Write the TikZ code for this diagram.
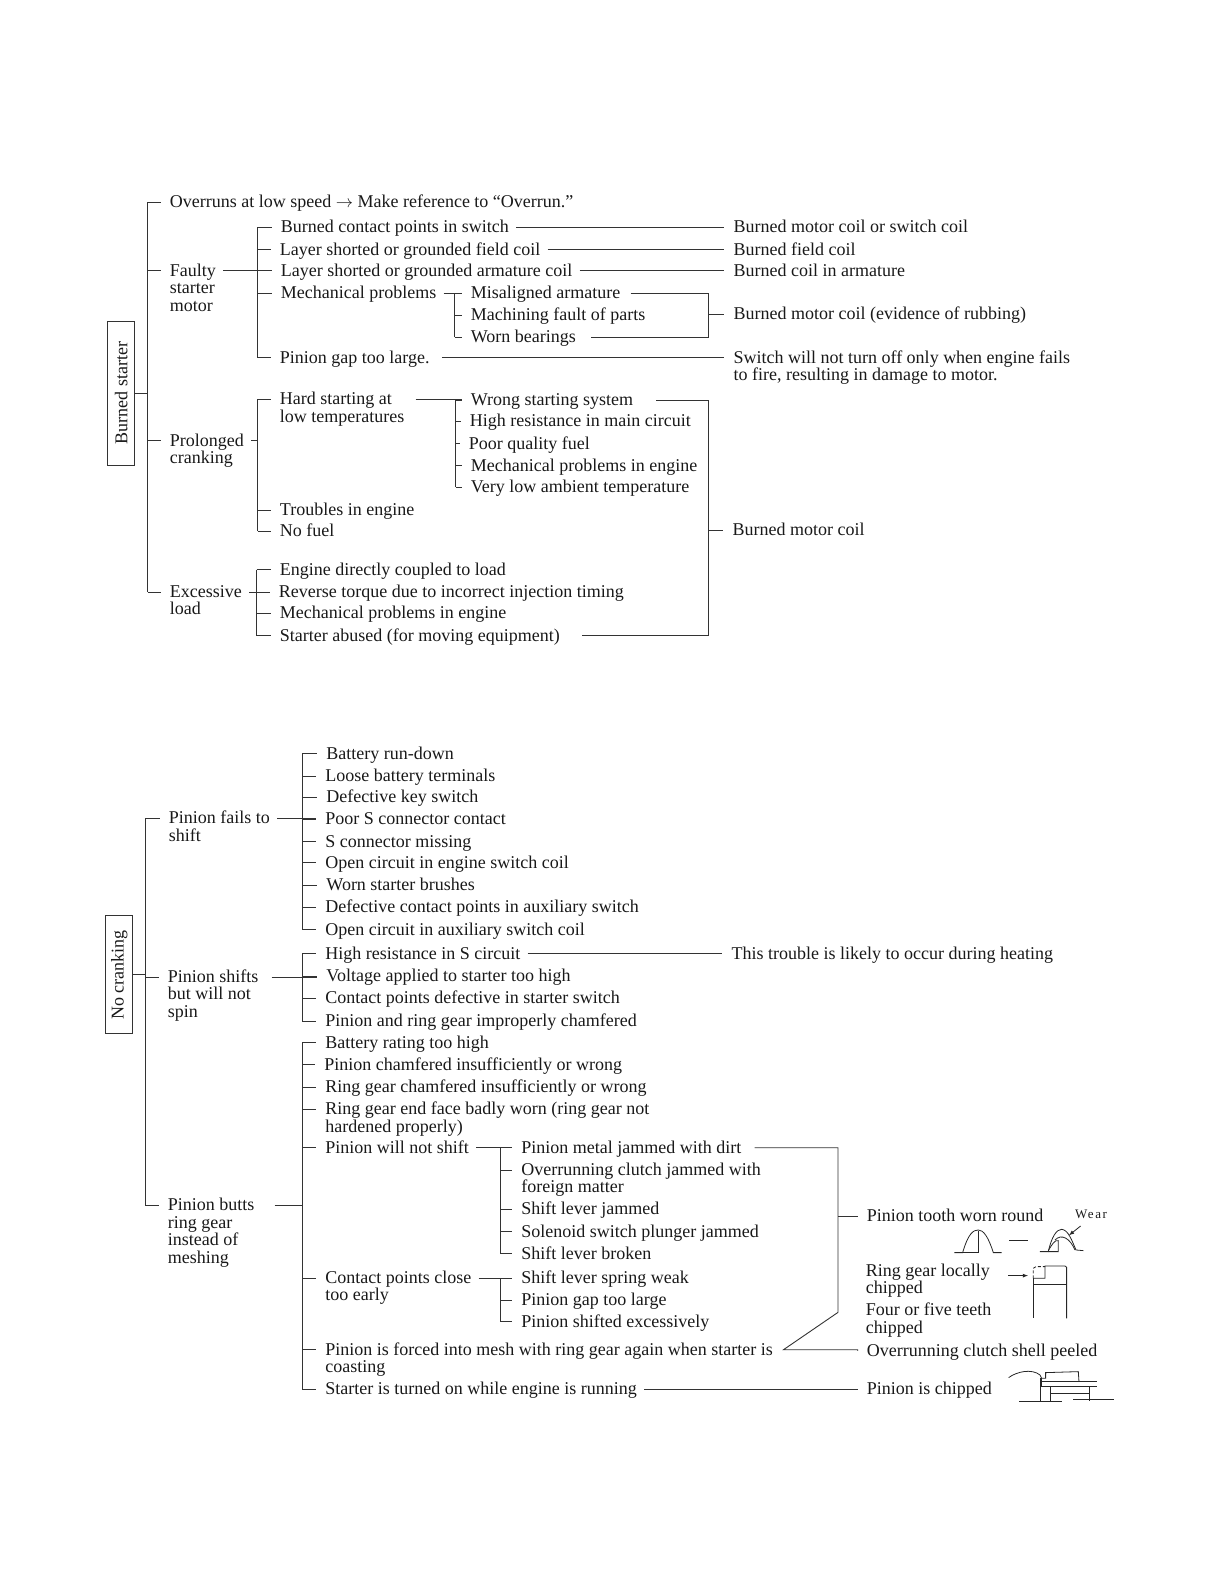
\documentclass[tikz,border=0pt]{standalone}
\usepackage{fontspec}
\setmainfont{Liberation Serif}
\newfontfamily\wearfont[LetterSpace=12]{Liberation Serif}
\tikzset{
  txt/.style={anchor=base west,inner xsep=7pt,inner ysep=1pt,text=black!90,font=\fontsize{18}{17.4}\selectfont},
  ln/.style={line width=0.9pt,draw=black!80},
  fine/.style={line width=0.8pt,draw=black!85},
  boxed/.style={draw=black!80,line width=0.9pt,rotate=90,minimum width=118pt,minimum height=27pt,inner sep=0pt,text=black!90,font=\fontsize{18}{17.4}\selectfont}
}
\newcommand\T[4]{\node[txt] (#1) at ({#2-7},{#3+5.5}) {\vtop{\lineskiplimit=-20pt\let\\\cr\halign{##\hfil\cr #4\crcr}}};
  \coordinate (#1w) at ([yshift=5.5pt,xshift=-2pt]#1.base west);
  \coordinate (#1e) at ([yshift=5.5pt]#1.base east);}
\newcommand\stub[2]{\draw[ln] (#1 |- #2w) -- (#2w);}
\newcommand\bus[3]{\draw[ln] (#1 |- #2w) -- (#1 |- #3w);}
\newcommand\lead[2]{\draw[ln] (#1e) -- (#1e -| #2w);}
\newcommand\leadx[3]{\draw[ln] ([xshift=#3pt]#1e) -- (#1e -| #2w);}
\begin{document}
\begin{tikzpicture}[x=1.0103pt,y=-1.0103pt]
\useasboundingbox (0,0) rectangle (1211.5,1567.9);
% ---------- Burned starter ----------
\node[boxed,minimum width=144pt] (bs) at (120,389) {Burned starter};
\coordinate (A) at (146,389);
\T{over}{168}{200}{Overruns at low speed $\rightarrow$ Make reference to “Overrun.”}
\T{faulty}{168}{268}{Faulty\\starter\\motor}
\T{prolong}{168}{436}{Prolonged\\cranking}
\T{excess}{168}{586}{Excessive\\load}
\draw[ln] (bs.south) -- (A);
\bus{A}{over}{excess}
\stub{A}{over}\stub{A}{faulty}\stub{A}{prolong}\stub{A}{excess}
% faulty motor
\coordinate (B) at (255,300);
\T{f1}{278}{225}{Burned contact points in switch}
\T{f2}{277}{247}{Layer shorted or grounded field coil}
\T{f3}{278}{268}{Layer shorted or grounded armature coil}
\T{f4}{278}{290}{Mechanical problems}
\T{f5}{277}{354}{Pinion gap too large.}
\bus{B}{f1}{f5}
\stub{B}{f1}\stub{B}{f2}\stub{B}{f3}\stub{B}{f4}\stub{B}{f5}
\lead{faulty}{f3}
\T{r1}{726}{225}{Burned motor coil or switch coil}
\T{r2}{726}{247}{Burned field coil}
\T{r3}{726}{268}{Burned coil in armature}
\T{r4}{726}{311}{Burned motor coil (evidence of rubbing)}
\T{r5}{726}{354}{Switch will not turn off only when engine fails\\to fire, resulting in damage to motor.}
\lead{f1}{r1}\lead{f2}{r2}\lead{f3}{r3}\leadx{f5}{r5}{5}
% mechanical problems
\coordinate (C) at (450,300);
\T{m1}{466}{290}{Misaligned armature}
\T{m2}{466}{312}{Machining fault of parts}
\T{m3}{466}{334}{Worn bearings}
\bus{C}{m1}{m3}
\stub{C}{m1}\stub{C}{m2}\stub{C}{m3}
\lead{f4}{m1}
\coordinate (D) at (701,300);
\draw[ln] ([xshift=3pt]m1e) -- (m1e -| D) -- (m3e -| D) -- ([xshift=8pt]m3e);
\stub{D}{r4}
% prolonged
\T{p1}{277}{395}{Hard starting at\\low temperatures}
\T{p2}{277}{505}{Troubles in engine}
\T{p3}{277}{526}{No fuel}
\bus{B}{p1}{p3}
\stub{B}{p1}\stub{B}{p2}\stub{B}{p3}
\draw[ln] (prolonge) -- (prolonge -| B);
\coordinate (E) at (451,400);
\T{h1}{466}{396}{Wrong starting system}
\T{h2}{465}{417}{High resistance in main circuit}
\T{h3}{464}{439}{Poor quality fuel}
\T{h4}{466}{461}{Mechanical problems in engine}
\T{h5}{466}{482}{Very low ambient temperature}
\bus{E}{h1}{h5}
\stub{E}{h1}\stub{E}{h2}\stub{E}{h3}\stub{E}{h4}\stub{E}{h5}
\leadx{p1}{h1}{4}
% excessive
\coordinate (F) at (254,600);
\T{e1}{277}{564}{Engine directly coupled to load}
\T{e2}{276}{586}{Reverse torque due to incorrect injection timing}
\T{e3}{277}{607}{Mechanical problems in engine}
\T{e4}{277}{629}{Starter abused (for moving equipment)}
\bus{F}{e1}{e4}
\stub{F}{e1}\stub{F}{e2}\stub{F}{e3}\stub{F}{e4}
\lead{excess}{e2}
% burned motor coil bracket
\coordinate (G) at (701,500);
\T{r6}{725}{525}{Burned motor coil}
\draw[ln] ([xshift=16pt]h1e) -- (h1e -| G) -- (e4e -| G) -- ([xshift=15pt]e4e);
\stub{G}{r6}
% ---------- No cranking ----------
\node[boxed] (nc) at (118,965) {No cranking};
\coordinate (H) at (144,965);
\T{n1}{167}{810}{Pinion fails to\\shift}
\T{n2}{166}{967}{Pinion shifts\\but will not\\spin}
\T{n3}{166}{1193}{Pinion butts\\ring gear\\instead of\\meshing}
\bus{H}{n1}{n3}
\stub{H}{n1}\stub{H}{n2}\stub{H}{n3}
\draw[ln] (nc.south) -- (H);
\coordinate (I) at (299,900);
\T{a1}{323}{746}{Battery run-down}
\T{a2}{322}{768}{Loose battery terminals}
\T{a3}{323}{789}{Defective key switch}
\T{a4}{322}{811}{Poor S connector contact}
\T{a5}{322}{833}{S connector missing}
\T{a6}{322}{854}{Open circuit in engine switch coil}
\T{a7}{323}{876}{Worn starter brushes}
\T{a8}{322}{898}{Defective contact points in auxiliary switch}
\T{a9}{322}{920}{Open circuit in auxiliary switch coil}
\bus{I}{a1}{a9}
\stub{I}{a1}\stub{I}{a2}\stub{I}{a3}\stub{I}{a4}\stub{I}{a5}\stub{I}{a6}\stub{I}{a7}\stub{I}{a8}\stub{I}{a9}
\lead{n1}{a4}
\T{b1}{322}{944}{High resistance in S circuit}
\T{b2}{323}{966}{Voltage applied to starter too high}
\T{b3}{322}{988}{Contact points defective in starter switch}
\T{b4}{322}{1011}{Pinion and ring gear improperly chamfered}
\bus{I}{b1}{b4}
\stub{I}{b1}\stub{I}{b2}\stub{I}{b3}\stub{I}{b4}
\leadx{n2}{b2}{6}
\T{t1}{724}{944}{This trouble is likely to occur during heating}
\lead{b1}{t1}
\T{c1}{322}{1032}{Battery rating too high}
\T{c2}{321}{1054}{Pinion chamfered insufficiently or wrong}
\T{c3}{322}{1076}{Ring gear chamfered insufficiently or wrong}
\T{c4}{322}{1098}{Ring gear end face badly worn (ring gear not\\hardened properly)}
\T{c5}{322}{1136}{Pinion will not shift}
\T{c6}{322}{1265}{Contact points close\\too early}
\T{c7}{322}{1336}{Pinion is forced into mesh with ring gear again when starter is\\coasting}
\T{c8}{322}{1375}{Starter is turned on while engine is running}
\bus{I}{c1}{c8}
\stub{I}{c1}\stub{I}{c2}\stub{I}{c3}\stub{I}{c4}\stub{I}{c5}\stub{I}{c6}\stub{I}{c7}\stub{I}{c8}
\draw[ln] ([xshift=13pt]n3e) -- (n3e -| I);
\coordinate (J) at (495,1200);
\T{d1}{516}{1136}{Pinion metal jammed with dirt}
\T{d2}{516}{1158}{Overrunning clutch jammed with\\foreign matter}
\T{d3}{516}{1197}{Shift lever jammed}
\T{d4}{516}{1219}{Solenoid switch plunger jammed}
\T{d5}{516}{1241}{Shift lever broken}
\bus{J}{d1}{d5}
\stub{J}{d1}\stub{J}{d2}\stub{J}{d3}\stub{J}{d4}\stub{J}{d5}
\lead{c5}{d1}
\T{g1}{516}{1265}{Shift lever spring weak}
\T{g2}{516}{1287}{Pinion gap too large}
\T{g3}{516}{1308}{Pinion shifted excessively}
\bus{J}{g1}{g3}
\stub{J}{g1}\stub{J}{g2}\stub{J}{g3}
\lead{c6}{g1}
\T{q1}{858}{1204}{Pinion tooth worn round}
\T{q2}{857}{1258}{Ring gear locally\\chipped}
\T{q3}{857}{1297}{Four or five teeth\\chipped}
\T{q4}{858}{1337}{Overrunning clutch shell peeled}
\T{q5}{858}{1375}{Pinion is chipped}
\node[txt,inner xsep=0pt,font=\wearfont\fontsize{13}{14}\selectfont] (wear) at (1064,1206) {Wear};
\coordinate (K) at (829.5,1299);
\coordinate (L) at (775.5,1336);
\draw[ln] ([xshift=6pt]d1e) -- (d1e -| K) -- (K) -- (L) -- (L -| q4w) -- (q4w);
\stub{K}{q1}
\lead{c8}{q5}
% ---------- small sketches (coordinates in 3x crop pixels) ----------
\begin{scope}[shift={(732.46,1108.58)},x=0.33333pt,y=-0.33333pt]
 % tooth
 \draw[fine] (643,398) -- (668,398) .. controls (685,340) and (700,330) .. (715,330) .. controls (730,330) and (745,350) .. (760,398) -- (785,398);
 \draw[fine] (715,332) -- (715,398) (668,398) -- (715,398);
 \draw[fine] (808,362) -- (865,362);
 % worn tooth
 \draw[fine] (900,395) -- (925,395) .. controls (935,350) and (950,328) .. (965,328) .. controls (985,330) and (995,360) .. (1008,390) -- (1030,392);
 \draw[fine] (925,395) -- (955,395) -- (955,362) .. controls (945,358) and (935,375) .. (925,392);
 \draw[fine] (945,360) .. controls (965,340) and (990,355) .. (1005,390);
 \draw[fine,-latex] (1022,318) -- (987,346);
 % ring gear
 \draw[fine,-latex] (805,467) -- (864,467);
 \draw[fine,densely dashed] (880,475) -- (880,445) -- (888,440) -- (915,440);
 \draw[fine] (880,475) -- (915,475) -- (915,438) -- (975,438) -- (980,442) -- (980,595);
 \draw[fine] (880,475) -- (880,595);
 \draw[line width=1.2pt,draw=black!85] (880,493) -- (978,493);
 % pinion
 \draw[fine] (806,773) .. controls (830,755) and (875,745) .. (900,765) -- (905,775) -- (917,775) -- (917,758) -- (1015,755) -- (1017,785);
 \draw[fine] (903,775) -- (903,800) (903,785) -- (1070,785) (903,800) -- (1070,800);
 \draw[fine] (900,775) -- (900,842) (930,800) -- (930,842) (1047,800) -- (1047,842) (930,820) -- (1047,820);
 \draw[fine] (838,844) -- (965,844) (1000,838) -- (1122,838);
\end{scope}
\end{tikzpicture}
\end{document}
